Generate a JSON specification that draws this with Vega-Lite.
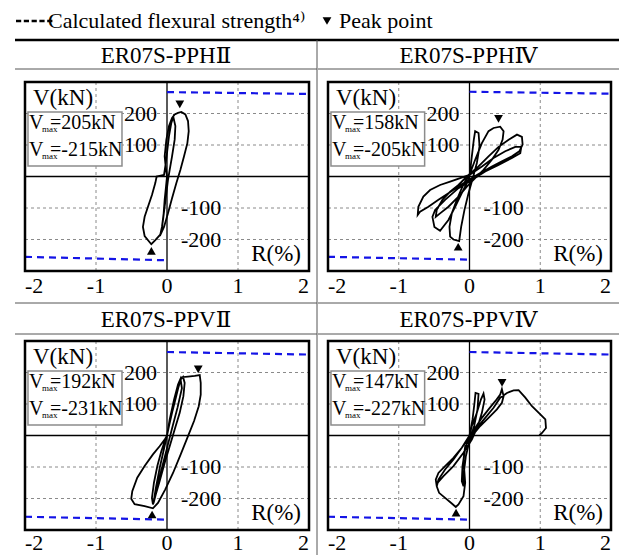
{
  "$schema": "https://vega.github.io/schema/vega-lite/v6.json",
  "padding": {"left": 13, "top": 0, "right": 3, "bottom": 0},
  "bounds": "flush",
  "spacing": 0,
  "columns": 3,
  "datasets": {
    "cal": [
      {"p": "HII", "s": "pos", "R": 0, "V": 268}, {"p": "HII", "s": "pos", "R": 2, "V": 262},
      {"p": "HII", "s": "neg", "R": -2, "V": -255}, {"p": "HII", "s": "neg", "R": 0, "V": -266},
      {"p": "HIV", "s": "pos", "R": 0, "V": 269}, {"p": "HIV", "s": "pos", "R": 2, "V": 263},
      {"p": "HIV", "s": "neg", "R": -2, "V": -255}, {"p": "HIV", "s": "neg", "R": 0, "V": -264},
      {"p": "VII", "s": "pos", "R": 0, "V": 265}, {"p": "VII", "s": "pos", "R": 2, "V": 257},
      {"p": "VII", "s": "neg", "R": -2, "V": -258}, {"p": "VII", "s": "neg", "R": 0, "V": -267},
      {"p": "VIV", "s": "pos", "R": 0, "V": 265}, {"p": "VIV", "s": "pos", "R": 2, "V": 257},
      {"p": "VIV", "s": "neg", "R": -2, "V": -258}, {"p": "VIV", "s": "neg", "R": 0, "V": -267}
    ],
    "pk": [
      {"p": "HII", "d": "down", "kind": "Peak point", "R": 0.18, "V": 229},
      {"p": "HII", "d": "up", "kind": "Peak point", "R": -0.22, "V": -236},
      {"p": "HIV", "d": "down", "kind": "Peak point", "R": 0.41, "V": 183},
      {"p": "HIV", "d": "up", "kind": "Peak point", "R": -0.16, "V": -223},
      {"p": "VII", "d": "down", "kind": "Peak point", "R": 0.44, "V": 210},
      {"p": "VII", "d": "up", "kind": "Peak point", "R": -0.21, "V": -251},
      {"p": "VIV", "d": "down", "kind": "Peak point", "R": 0.46, "V": 167},
      {"p": "VIV", "d": "up", "kind": "Peak point", "R": -0.19, "V": -245}
    ],
    "vm": [
      {"p": "HII", "t": ["=205kN", "=-215kN"]},
      {"p": "HIV", "t": ["=158kN", "=-205kN"]},
      {"p": "VII", "t": ["=192kN", "=-231kN"]},
      {"p": "VIV", "t": ["=147kN", "=-227kN"]}
    ],
    "gx": [{"R": -1}, {"R": 1}],
    "xt": [{"R": -2, "t": "-2"}, {"R": -1, "t": "-1"}, {"R": 0, "t": "0"}, {"R": 1, "t": "1"}, {"R": 2, "t": "2"}],
    "yt": [{"V": 200, "t": "200"}, {"V": 100, "t": "100"}, {"V": -100, "t": "-100"}, {"V": -200, "t": "-200"}],
    "hII": [
      {"R": 0, "V": 0}, {"R": -0.019, "V": 32}, {"R": -0.033, "V": 64}, {"R": -0.009, "V": 117}, {"R": 0.028, "V": 160}, {"R": 0.071, "V": 186}, {"R": 0.108, "V": 197}, {"R": 0.155, "V": 202}, {"R": 0.202, "V": 205}, {"R": 0.259, "V": 197}, {"R": 0.296, "V": 176}, {"R": 0.306, "V": 144}, {"R": 0.287, "V": 106}, {"R": 0.24, "V": 64}, {"R": 0.188, "V": 21}, {"R": 0.132, "V": -21}, {"R": 0.071, "V": -69}, {"R": 0.014, "V": -117}, {"R": -0.042, "V": -160}, {"R": -0.089, "V": -183}, {"R": -0.165, "V": -202}, {"R": -0.221, "V": -215}, {"R": -0.315, "V": -189}, {"R": -0.339, "V": -160}, {"R": -0.315, "V": -128}, {"R": -0.268, "V": -96}, {"R": -0.212, "V": -59}, {"R": -0.165, "V": -21}, {"R": -0.146, "V": 0}, {"R": -0.089, "V": 3}, {"R": -0.042, "V": 5}, {"R": -0.024, "V": 32}, {"R": 0, "V": 74}, {"R": 0.028, "V": 128}, {"R": 0.061, "V": 170}, {"R": 0.089, "V": 189}, {"R": 0.118, "V": 160}, {"R": 0.108, "V": 117}, {"R": 0.071, "V": 64}, {"R": 0.038, "V": 21}, {"R": 0.014, "V": -11}, {"R": -0.009, "V": -53}, {"R": -0.033, "V": -96}, {"R": -0.056, "V": -138}, {"R": -0.08, "V": -176}, {"R": -0.099, "V": -189}, {"R": -0.071, "V": -160}, {"R": -0.047, "V": -117}, {"R": -0.033, "V": -74}, {"R": -0.014, "V": -32}, {"R": 0, "V": 0}
    ],
    "hIV": [
      {"R": 0, "V": 0}, {"R": 0.033, "V": 64}, {"R": 0.061, "V": 117}, {"R": 0.08, "V": 144}, {"R": 0.128, "V": 138}, {"R": 0.142, "V": 96}, {"R": 0.104, "V": 43}, {"R": 0.047, "V": -5}, {"R": -0.014, "V": -53}, {"R": -0.071, "V": -106}, {"R": -0.118, "V": -160}, {"R": -0.146, "V": -205}, {"R": -0.227, "V": -200}, {"R": -0.274, "V": -191}, {"R": -0.283, "V": -160}, {"R": -0.25, "V": -117}, {"R": -0.179, "V": -74}, {"R": -0.109, "V": -37}, {"R": -0.052, "V": -11}, {"R": 0, "V": 5},
      {"R": 0.08, "V": 53}, {"R": 0.175, "V": 106}, {"R": 0.269, "V": 144}, {"R": 0.34, "V": 154}, {"R": 0.434, "V": 158}, {"R": 0.482, "V": 144}, {"R": 0.468, "V": 117}, {"R": 0.411, "V": 85}, {"R": 0.316, "V": 53}, {"R": 0.198, "V": 21}, {"R": 0.08, "V": -5}, {"R": -0.038, "V": -32}, {"R": -0.156, "V": -64}, {"R": -0.298, "V": -96}, {"R": -0.416, "V": -117}, {"R": -0.477, "V": -128}, {"R": -0.463, "V": -106}, {"R": -0.383, "V": -74}, {"R": -0.274, "V": -48}, {"R": -0.156, "V": -27}, {"R": -0.038, "V": 0},
      {"R": 0.128, "V": 32}, {"R": 0.269, "V": 64}, {"R": 0.411, "V": 94}, {"R": 0.553, "V": 117}, {"R": 0.671, "V": 133}, {"R": 0.741, "V": 126}, {"R": 0.751, "V": 101}, {"R": 0.704, "V": 80}, {"R": 0.6, "V": 64}, {"R": 0.458, "V": 48}, {"R": 0.316, "V": 32}, {"R": 0.151, "V": 11}, {"R": -0.014, "V": -11}, {"R": -0.156, "V": -32}, {"R": -0.298, "V": -53}, {"R": -0.439, "V": -74}, {"R": -0.581, "V": -96}, {"R": -0.699, "V": -112}, {"R": -0.732, "V": -122}, {"R": -0.723, "V": -96}, {"R": -0.652, "V": -64}, {"R": -0.557, "V": -43}, {"R": -0.416, "V": -27}, {"R": -0.274, "V": -16}, {"R": -0.132, "V": -5}, {"R": 0, "V": 5},
      {"R": 0.175, "V": 32}, {"R": 0.34, "V": 59}, {"R": 0.505, "V": 80}, {"R": 0.647, "V": 94}, {"R": 0.732, "V": 94}, {"R": 0.718, "V": 74}, {"R": 0.6, "V": 59}, {"R": 0.411, "V": 37}, {"R": 0.222, "V": 16}, {"R": 0.033, "V": -11}, {"R": -0.156, "V": -37}, {"R": -0.345, "V": -74}, {"R": -0.486, "V": -106}, {"R": -0.524, "V": -128}, {"R": -0.496, "V": -160}, {"R": -0.416, "V": -172}, {"R": -0.298, "V": -138}, {"R": -0.203, "V": -96}, {"R": -0.109, "V": -53}, {"R": -0.038, "V": -21}, {"R": 0, "V": 0}
    ],
    "vII": [
      {"R": 0, "V": 0}, {"R": 0.038, "V": 40}, {"R": 0.085, "V": 93}, {"R": 0.146, "V": 141}, {"R": 0.193, "V": 178}, {"R": 0.226, "V": 186}, {"R": 0.249, "V": 167}, {"R": 0.231, "V": 125}, {"R": 0.179, "V": 72}, {"R": 0.108, "V": 19}, {"R": 0.038, "V": -34}, {"R": -0.033, "V": -87}, {"R": -0.104, "V": -145}, {"R": -0.165, "V": -193}, {"R": -0.198, "V": -219}, {"R": -0.212, "V": -198}, {"R": -0.184, "V": -150}, {"R": -0.136, "V": -97}, {"R": -0.08, "V": -50}, {"R": -0.024, "V": -13}, {"R": 0, "V": 0},
      {"R": 0.028, "V": 30}, {"R": 0.071, "V": 72}, {"R": 0.118, "V": 114}, {"R": 0.165, "V": 157}, {"R": 0.202, "V": 185}, {"R": 0.296, "V": 187}, {"R": 0.391, "V": 189}, {"R": 0.461, "V": 192}, {"R": 0.475, "V": 167}, {"R": 0.475, "V": 130}, {"R": 0.447, "V": 93}, {"R": 0.381, "V": 46}, {"R": 0.296, "V": -2}, {"R": 0.193, "V": -60}, {"R": 0.085, "V": -119}, {"R": -0.024, "V": -171}, {"R": -0.127, "V": -214}, {"R": -0.198, "V": -231}, {"R": -0.315, "V": -224}, {"R": -0.456, "V": -218}, {"R": -0.504, "V": -201}, {"R": -0.489, "V": -177}, {"R": -0.419, "V": -134}, {"R": -0.315, "V": -97}, {"R": -0.198, "V": -60}, {"R": -0.104, "V": -34}, {"R": -0.033, "V": -13}, {"R": 0, "V": 0},
      {"R": 0.038, "V": 51}, {"R": 0.099, "V": 114}, {"R": 0.155, "V": 162}, {"R": 0.19, "V": 180}, {"R": 0.21, "V": 150}, {"R": 0.15, "V": 90}, {"R": 0.08, "V": 30}, {"R": 0, "V": -40}, {"R": -0.08, "V": -110}, {"R": -0.15, "V": -180}, {"R": -0.19, "V": -215}, {"R": -0.16, "V": -170}, {"R": -0.1, "V": -100}, {"R": -0.04, "V": -40}, {"R": 0, "V": 0}
    ],
    "vIV": [
      {"R": 0, "V": 0}, {"R": 0.043, "V": 51}, {"R": 0.071, "V": 104}, {"R": 0.085, "V": 135}, {"R": 0.128, "V": 132}, {"R": 0.113, "V": 83}, {"R": 0.066, "V": 30}, {"R": 0.005, "V": -13}, {"R": -0.052, "V": -66}, {"R": -0.08, "V": -119}, {"R": -0.085, "V": -161}, {"R": -0.109, "V": -145}, {"R": -0.099, "V": -97}, {"R": -0.071, "V": -55}, {"R": -0.033, "V": -18}, {"R": 0, "V": 0},
      {"R": 0.033, "V": 30}, {"R": 0.104, "V": 72}, {"R": 0.161, "V": 114}, {"R": 0.198, "V": 133}, {"R": 0.213, "V": 114}, {"R": 0.175, "V": 72}, {"R": 0.118, "V": 30}, {"R": 0.033, "V": -13}, {"R": -0.085, "V": -55}, {"R": -0.227, "V": -97}, {"R": -0.368, "V": -129}, {"R": -0.449, "V": -150}, {"R": -0.463, "V": -161}, {"R": -0.439, "V": -140}, {"R": -0.345, "V": -108}, {"R": -0.227, "V": -76}, {"R": -0.109, "V": -39}, {"R": 0, "V": 0},
      {"R": 0.08, "V": 24}, {"R": 0.175, "V": 56}, {"R": 0.269, "V": 83}, {"R": 0.364, "V": 109}, {"R": 0.434, "V": 130}, {"R": 0.458, "V": 147}, {"R": 0.482, "V": 125}, {"R": 0.458, "V": 104}, {"R": 0.387, "V": 83}, {"R": 0.269, "V": 56}, {"R": 0.151, "V": 30}, {"R": 0.033, "V": -2}, {"R": -0.061, "V": -34}, {"R": -0.085, "V": -76}, {"R": -0.071, "V": -119}, {"R": -0.061, "V": -150}, {"R": -0.085, "V": -193}, {"R": -0.156, "V": -219}, {"R": -0.194, "V": -227}, {"R": -0.25, "V": -216}, {"R": -0.345, "V": -198}, {"R": -0.43, "V": -182}, {"R": -0.463, "V": -161}, {"R": -0.477, "V": -140}, {"R": -0.439, "V": -119}, {"R": -0.345, "V": -97}, {"R": -0.227, "V": -71}, {"R": -0.109, "V": -39}, {"R": 0, "V": -4},
      {"R": 0.104, "V": 24}, {"R": 0.222, "V": 56}, {"R": 0.34, "V": 88}, {"R": 0.434, "V": 120}, {"R": 0.529, "V": 135}, {"R": 0.623, "V": 143}, {"R": 0.694, "V": 144}, {"R": 0.789, "V": 120}, {"R": 0.883, "V": 93}, {"R": 1.001, "V": 67}, {"R": 1.072, "V": 51}, {"R": 1.081, "V": 24}, {"R": 1.025, "V": 8}, {"R": 0.987, "V": 0}
    ]
  },
  "concat": [
    {"width": 302, "height": 40, "data": {"values": [{}]}, "mark": {"type": "rule", "color": "black", "strokeWidth": 2.5}, "encoding": {"y": {"datum": 0, "scale": {"domain": [0, 1]}, "axis": null}}},
    {"width": 1, "height": 40, "data": {"values": [{}]}, "mark": {"type": "rule", "color": "black", "strokeWidth": 2.5}, "encoding": {"y": {"datum": 0, "scale": {"domain": [0, 1]}, "axis": null}}},
    {"width": 301, "height": 40, "data": {"values": [{}]}, "mark": {"type": "rule", "color": "black", "strokeWidth": 2.5}, "encoding": {"y": {"datum": 0, "scale": {"domain": [0, 1]}, "axis": null}}},

    {
      "width": 302, "height": 29,
      "data": {"values": [{"t": "ER07S-PPHⅡ"}]},
      "layer": [
        {"mark": {"type": "text", "fontSize": 23, "baseline": "middle", "dy": 1}, "encoding": {"text": {"field": "t"}}},
        {"mark": {"type": "rule", "color": "#555555", "strokeWidth": 1}, "encoding": {"y": {"datum": 0, "scale": {"domain": [0, 1]}, "axis": null}}}
      ]
    },
    {"width": 1, "height": 29, "data": {"values": [{}]}, "mark": {"type": "rule", "color": "#555555", "strokeWidth": 1}, "encoding": {"x": {"datum": 0, "scale": {"domain": [0, 1]}, "axis": null}}},
    {
      "width": 301, "height": 29,
      "data": {"values": [{"t": "ER07S-PPHⅣ"}]},
      "layer": [
        {"mark": {"type": "text", "fontSize": 23, "baseline": "middle", "dy": 1}, "encoding": {"text": {"field": "t"}}},
        {"mark": {"type": "rule", "color": "#555555", "strokeWidth": 1}, "encoding": {"y": {"datum": 0, "scale": {"domain": [0, 1]}, "axis": null}}}
      ]
    },

    {
      "width": 302, "height": 234,
      "data": {"values": [{}]},
      "layer": [
        {"data": {"name": "gx"}, "mark": {"type": "rule", "color": "#8a8a8a", "strokeWidth": 1, "strokeDash": [3, 3]}, "encoding": {"x": {"field": "R", "type": "quantitative", "title": null, "scale": {"domain": [-2, 2], "range": [10, 294], "nice": false, "zero": false}}, "y": {"datum": -300, "scale": {"domain": [-300, 300], "range": [202, 13], "nice": false, "zero": false}}, "y2": {"datum": 300}}},
        {"data": {"name": "yt"}, "mark": {"type": "rule", "color": "#8a8a8a", "strokeWidth": 1, "strokeDash": [3, 3]}, "encoding": {"y": {"field": "V", "type": "quantitative", "title": null}, "x": {"datum": -2}, "x2": {"datum": 2}}},
        {"mark": {"type": "rule", "color": "black", "strokeWidth": 1.3}, "encoding": {"x": {"datum": -2}, "x2": {"datum": 2}, "y": {"datum": 0}}},
        {"mark": {"type": "rule", "color": "black", "strokeWidth": 1.3}, "encoding": {"x": {"datum": 0}, "y": {"datum": -300}, "y2": {"datum": 300}}},
        {"data": {"name": "cal"}, "transform": [{"filter": "datum.p == 'HII'"}], "mark": {"type": "line", "color": "#1414e6", "strokeDash": [7, 5], "strokeWidth": 2.2}, "encoding": {"x": {"field": "R", "type": "quantitative", "title": null}, "y": {"field": "V", "type": "quantitative", "title": null}, "detail": {"field": "s"}, "order": {"value": null}}},
        {"data": {"name": "hII"}, "mark": {"type": "line", "color": "black", "strokeWidth": 1.8}, "encoding": {"x": {"field": "R", "type": "quantitative", "title": null}, "y": {"field": "V", "type": "quantitative", "title": null}, "order": {"value": null}}},
        {"data": {"name": "pk"}, "transform": [{"filter": "datum.p == 'HII' && datum.d == 'down'"}], "mark": {"type": "point", "filled": true, "size": 1600, "color": "black", "opacity": 1}, "encoding": {"x": {"field": "R", "type": "quantitative", "title": null}, "y": {"field": "V", "type": "quantitative", "title": null}, "shape": {"field": "kind", "type": "nominal", "title": null, "scale": {"domain": ["Calculated flexural strength⁴⁾", "Peak point"], "range": ["M-1,-0.065H-0.74V0.065H-1Z M-0.61,-0.065H-0.35V0.065H-0.61Z M-0.22,-0.065H0.04V0.065H-0.22Z M0.17,-0.065H0.43V0.065H0.17Z M0.56,-0.065H0.82V0.065H0.56Z", "M-0.22,-0.19L0.22,-0.19L0,0.19Z"]}}}},
        {"data": {"name": "pk"}, "transform": [{"filter": "datum.p == 'HII' && datum.d == 'up'"}], "mark": {"type": "point", "filled": true, "size": 1600, "color": "black", "opacity": 1, "shape": "M-0.22,0.19L0.22,0.19L0,-0.19Z"}, "encoding": {"x": {"field": "R", "type": "quantitative", "title": null}, "y": {"field": "V", "type": "quantitative", "title": null}}},
        {"data": {"name": "yt"}, "transform": [{"filter": "datum.V > 0"}], "mark": {"type": "text", "fontSize": 22, "align": "right", "baseline": "middle", "dx": -10}, "encoding": {"x": {"datum": 0}, "y": {"field": "V", "type": "quantitative", "title": null}, "text": {"field": "t"}}},
        {"data": {"name": "yt"}, "transform": [{"filter": "datum.V < 0"}], "mark": {"type": "text", "fontSize": 22, "align": "left", "baseline": "middle", "dx": 14}, "encoding": {"x": {"datum": 0}, "y": {"field": "V", "type": "quantitative", "title": null}, "text": {"field": "t"}}},
        {"data": {"name": "xt"}, "mark": {"type": "text", "fontSize": 22, "baseline": "top", "dy": 5, "align": {"expr": "datum.R == -2 ? 'left' : datum.R == 2 ? 'right' : 'center'"}}, "encoding": {"x": {"field": "R", "type": "quantitative", "title": null}, "y": {"datum": -300}, "text": {"field": "t"}}},
        {"mark": {"type": "text", "text": "V(kN)", "fontSize": 23, "align": "left", "baseline": "top", "dx": 8, "dy": 5}, "encoding": {"x": {"datum": -2}, "y": {"datum": 300}}},
        {"mark": {"type": "text", "text": "R(%)", "fontSize": 23, "align": "right", "baseline": "bottom", "dx": -8, "dy": -5}, "encoding": {"x": {"datum": 2}, "y": {"datum": -300}}},
        {"mark": {"type": "rect", "fill": "white", "stroke": "#8c8c8c", "strokeWidth": 1.5}, "encoding": {"x": {"datum": -1.958}, "x2": {"datum": -0.634}, "y": {"datum": 205}, "y2": {"datum": 33}}},
        {"mark": {"type": "text", "text": ["V", "V"], "fontSize": 20, "lineHeight": 27, "align": "left", "baseline": "alphabetic", "dx": 4}, "encoding": {"x": {"datum": -2}, "y": {"datum": 152}}},
        {"mark": {"type": "text", "text": ["max", "max"], "fontSize": 9, "lineHeight": 27, "align": "left", "baseline": "alphabetic", "dx": 17, "dy": 3}, "encoding": {"x": {"datum": -2}, "y": {"datum": 152}}},
        {"data": {"name": "vm"}, "transform": [{"filter": "datum.p == 'HII'"}], "mark": {"type": "text", "fontSize": 20, "lineHeight": 27, "align": "left", "baseline": "alphabetic", "dx": 25}, "encoding": {"x": {"datum": -2}, "y": {"datum": 152}, "text": {"field": "t"}}},
        {"mark": {"type": "rect", "fill": "white", "fillOpacity": 0, "stroke": "black", "strokeWidth": 2.5}, "encoding": {"x": {"datum": -2}, "x2": {"datum": 2}, "y": {"datum": -300}, "y2": {"datum": 300}}}
      ]
    },
    {"width": 1, "height": 234, "data": {"values": [{}]}, "mark": {"type": "rule", "color": "#555555", "strokeWidth": 1}, "encoding": {"x": {"datum": 0, "scale": {"domain": [0, 1]}, "axis": null}}},
    {
      "width": 301, "height": 234,
      "data": {"values": [{}]},
      "layer": [
        {"data": {"name": "gx"}, "mark": {"type": "rule", "color": "#8a8a8a", "strokeWidth": 1, "strokeDash": [3, 3]}, "encoding": {"x": {"field": "R", "type": "quantitative", "title": null, "scale": {"domain": [-2, 2], "range": [10, 293], "nice": false, "zero": false}}, "y": {"datum": -300, "scale": {"domain": [-300, 300], "range": [202, 13], "nice": false, "zero": false}}, "y2": {"datum": 300}}},
        {"data": {"name": "yt"}, "mark": {"type": "rule", "color": "#8a8a8a", "strokeWidth": 1, "strokeDash": [3, 3]}, "encoding": {"y": {"field": "V", "type": "quantitative", "title": null}, "x": {"datum": -2}, "x2": {"datum": 2}}},
        {"mark": {"type": "rule", "color": "black", "strokeWidth": 1.3}, "encoding": {"x": {"datum": -2}, "x2": {"datum": 2}, "y": {"datum": 0}}},
        {"mark": {"type": "rule", "color": "black", "strokeWidth": 1.3}, "encoding": {"x": {"datum": 0}, "y": {"datum": -300}, "y2": {"datum": 300}}},
        {"data": {"name": "cal"}, "transform": [{"filter": "datum.p == 'HIV'"}], "mark": {"type": "line", "color": "#1414e6", "strokeDash": [7, 5], "strokeWidth": 2.2}, "encoding": {"x": {"field": "R", "type": "quantitative", "title": null}, "y": {"field": "V", "type": "quantitative", "title": null}, "detail": {"field": "s"}, "order": {"value": null}}},
        {"data": {"name": "hIV"}, "mark": {"type": "line", "color": "black", "strokeWidth": 1.8}, "encoding": {"x": {"field": "R", "type": "quantitative", "title": null}, "y": {"field": "V", "type": "quantitative", "title": null}, "order": {"value": null}}},
        {"data": {"name": "pk"}, "transform": [{"filter": "datum.p == 'HIV' && datum.d == 'down'"}], "mark": {"type": "point", "filled": true, "size": 1600, "color": "black", "opacity": 1}, "encoding": {"x": {"field": "R", "type": "quantitative", "title": null}, "y": {"field": "V", "type": "quantitative", "title": null}, "shape": {"field": "kind", "type": "nominal", "title": null, "scale": {"domain": ["Calculated flexural strength⁴⁾", "Peak point"], "range": ["M-1,-0.065H-0.74V0.065H-1Z M-0.61,-0.065H-0.35V0.065H-0.61Z M-0.22,-0.065H0.04V0.065H-0.22Z M0.17,-0.065H0.43V0.065H0.17Z M0.56,-0.065H0.82V0.065H0.56Z", "M-0.22,-0.19L0.22,-0.19L0,0.19Z"]}}}},
        {"data": {"name": "pk"}, "transform": [{"filter": "datum.p == 'HIV' && datum.d == 'up'"}], "mark": {"type": "point", "filled": true, "size": 1600, "color": "black", "opacity": 1, "shape": "M-0.22,0.19L0.22,0.19L0,-0.19Z"}, "encoding": {"x": {"field": "R", "type": "quantitative", "title": null}, "y": {"field": "V", "type": "quantitative", "title": null}}},
        {"data": {"name": "yt"}, "transform": [{"filter": "datum.V > 0"}], "mark": {"type": "text", "fontSize": 22, "align": "right", "baseline": "middle", "dx": -10}, "encoding": {"x": {"datum": 0}, "y": {"field": "V", "type": "quantitative", "title": null}, "text": {"field": "t"}}},
        {"data": {"name": "yt"}, "transform": [{"filter": "datum.V < 0"}], "mark": {"type": "text", "fontSize": 22, "align": "left", "baseline": "middle", "dx": 14}, "encoding": {"x": {"datum": 0}, "y": {"field": "V", "type": "quantitative", "title": null}, "text": {"field": "t"}}},
        {"data": {"name": "xt"}, "mark": {"type": "text", "fontSize": 22, "baseline": "top", "dy": 5, "align": {"expr": "datum.R == -2 ? 'left' : datum.R == 2 ? 'right' : 'center'"}}, "encoding": {"x": {"field": "R", "type": "quantitative", "title": null}, "y": {"datum": -300}, "text": {"field": "t"}}},
        {"mark": {"type": "text", "text": "V(kN)", "fontSize": 23, "align": "left", "baseline": "top", "dx": 8, "dy": 5}, "encoding": {"x": {"datum": -2}, "y": {"datum": 300}}},
        {"mark": {"type": "text", "text": "R(%)", "fontSize": 23, "align": "right", "baseline": "bottom", "dx": -8, "dy": -5}, "encoding": {"x": {"datum": 2}, "y": {"datum": -300}}},
        {"mark": {"type": "rect", "fill": "white", "stroke": "#8c8c8c", "strokeWidth": 1.5}, "encoding": {"x": {"datum": -1.958}, "x2": {"datum": -0.634}, "y": {"datum": 205}, "y2": {"datum": 33}}},
        {"mark": {"type": "text", "text": ["V", "V"], "fontSize": 20, "lineHeight": 27, "align": "left", "baseline": "alphabetic", "dx": 4}, "encoding": {"x": {"datum": -2}, "y": {"datum": 152}}},
        {"mark": {"type": "text", "text": ["max", "max"], "fontSize": 9, "lineHeight": 27, "align": "left", "baseline": "alphabetic", "dx": 17, "dy": 3}, "encoding": {"x": {"datum": -2}, "y": {"datum": 152}}},
        {"data": {"name": "vm"}, "transform": [{"filter": "datum.p == 'HIV'"}], "mark": {"type": "text", "fontSize": 20, "lineHeight": 27, "align": "left", "baseline": "alphabetic", "dx": 25}, "encoding": {"x": {"datum": -2}, "y": {"datum": 152}, "text": {"field": "t"}}},
        {"mark": {"type": "rect", "fill": "white", "fillOpacity": 0, "stroke": "black", "strokeWidth": 2.5}, "encoding": {"x": {"datum": -2}, "x2": {"datum": 2}, "y": {"datum": -300}, "y2": {"datum": 300}}}
      ]
    },

    {
      "width": 302, "height": 31,
      "data": {"values": [{"t": "ER07S-PPVⅡ"}]},
      "layer": [
        {"mark": {"type": "text", "fontSize": 23, "baseline": "middle", "dy": 1}, "encoding": {"text": {"field": "t"}}},
        {"mark": {"type": "rule", "color": "#555555", "strokeWidth": 1}, "encoding": {"y": {"datum": 0, "scale": {"domain": [0, 1]}, "axis": null}}},
        {"mark": {"type": "rule", "color": "#555555", "strokeWidth": 1}, "encoding": {"y": {"datum": 1, "scale": {"domain": [0, 1]}, "axis": null}}}
      ]
    },
    {"width": 1, "height": 31, "data": {"values": [{}]}, "mark": {"type": "rule", "color": "#555555", "strokeWidth": 1}, "encoding": {"x": {"datum": 0, "scale": {"domain": [0, 1]}, "axis": null}}},
    {
      "width": 301, "height": 31,
      "data": {"values": [{"t": "ER07S-PPVⅣ"}]},
      "layer": [
        {"mark": {"type": "text", "fontSize": 23, "baseline": "middle", "dy": 1}, "encoding": {"text": {"field": "t"}}},
        {"mark": {"type": "rule", "color": "#555555", "strokeWidth": 1}, "encoding": {"y": {"datum": 0, "scale": {"domain": [0, 1]}, "axis": null}}},
        {"mark": {"type": "rule", "color": "#555555", "strokeWidth": 1}, "encoding": {"y": {"datum": 1, "scale": {"domain": [0, 1]}, "axis": null}}}
      ]
    },

    {
      "width": 302, "height": 221,
      "data": {"values": [{}]},
      "layer": [
        {"data": {"name": "gx"}, "mark": {"type": "rule", "color": "#8a8a8a", "strokeWidth": 1, "strokeDash": [3, 3]}, "encoding": {"x": {"field": "R", "type": "quantitative", "title": null, "scale": {"domain": [-2, 2], "range": [10, 294], "nice": false, "zero": false}}, "y": {"datum": -300, "scale": {"domain": [-300, 300], "range": [196, 7], "nice": false, "zero": false}}, "y2": {"datum": 300}}},
        {"data": {"name": "yt"}, "mark": {"type": "rule", "color": "#8a8a8a", "strokeWidth": 1, "strokeDash": [3, 3]}, "encoding": {"y": {"field": "V", "type": "quantitative", "title": null}, "x": {"datum": -2}, "x2": {"datum": 2}}},
        {"mark": {"type": "rule", "color": "black", "strokeWidth": 1.3}, "encoding": {"x": {"datum": -2}, "x2": {"datum": 2}, "y": {"datum": 0}}},
        {"mark": {"type": "rule", "color": "black", "strokeWidth": 1.3}, "encoding": {"x": {"datum": 0}, "y": {"datum": -300}, "y2": {"datum": 300}}},
        {"data": {"name": "cal"}, "transform": [{"filter": "datum.p == 'VII'"}], "mark": {"type": "line", "color": "#1414e6", "strokeDash": [7, 5], "strokeWidth": 2.2}, "encoding": {"x": {"field": "R", "type": "quantitative", "title": null}, "y": {"field": "V", "type": "quantitative", "title": null}, "detail": {"field": "s"}, "order": {"value": null}}},
        {"data": {"name": "vII"}, "mark": {"type": "line", "color": "black", "strokeWidth": 1.8}, "encoding": {"x": {"field": "R", "type": "quantitative", "title": null}, "y": {"field": "V", "type": "quantitative", "title": null}, "order": {"value": null}}},
        {"data": {"name": "pk"}, "transform": [{"filter": "datum.p == 'VII' && datum.d == 'down'"}], "mark": {"type": "point", "filled": true, "size": 1600, "color": "black", "opacity": 1}, "encoding": {"x": {"field": "R", "type": "quantitative", "title": null}, "y": {"field": "V", "type": "quantitative", "title": null}, "shape": {"field": "kind", "type": "nominal", "title": null, "scale": {"domain": ["Calculated flexural strength⁴⁾", "Peak point"], "range": ["M-1,-0.065H-0.74V0.065H-1Z M-0.61,-0.065H-0.35V0.065H-0.61Z M-0.22,-0.065H0.04V0.065H-0.22Z M0.17,-0.065H0.43V0.065H0.17Z M0.56,-0.065H0.82V0.065H0.56Z", "M-0.22,-0.19L0.22,-0.19L0,0.19Z"]}}}},
        {"data": {"name": "pk"}, "transform": [{"filter": "datum.p == 'VII' && datum.d == 'up'"}], "mark": {"type": "point", "filled": true, "size": 1600, "color": "black", "opacity": 1, "shape": "M-0.22,0.19L0.22,0.19L0,-0.19Z"}, "encoding": {"x": {"field": "R", "type": "quantitative", "title": null}, "y": {"field": "V", "type": "quantitative", "title": null}}},
        {"data": {"name": "yt"}, "transform": [{"filter": "datum.V > 0"}], "mark": {"type": "text", "fontSize": 22, "align": "right", "baseline": "middle", "dx": -10}, "encoding": {"x": {"datum": 0}, "y": {"field": "V", "type": "quantitative", "title": null}, "text": {"field": "t"}}},
        {"data": {"name": "yt"}, "transform": [{"filter": "datum.V < 0"}], "mark": {"type": "text", "fontSize": 22, "align": "left", "baseline": "middle", "dx": 14}, "encoding": {"x": {"datum": 0}, "y": {"field": "V", "type": "quantitative", "title": null}, "text": {"field": "t"}}},
        {"data": {"name": "xt"}, "mark": {"type": "text", "fontSize": 22, "baseline": "top", "dy": 3, "align": {"expr": "datum.R == -2 ? 'left' : datum.R == 2 ? 'right' : 'center'"}}, "encoding": {"x": {"field": "R", "type": "quantitative", "title": null}, "y": {"datum": -300}, "text": {"field": "t"}}},
        {"mark": {"type": "text", "text": "V(kN)", "fontSize": 23, "align": "left", "baseline": "top", "dx": 8, "dy": 5}, "encoding": {"x": {"datum": -2}, "y": {"datum": 300}}},
        {"mark": {"type": "text", "text": "R(%)", "fontSize": 23, "align": "right", "baseline": "bottom", "dx": -8, "dy": -5}, "encoding": {"x": {"datum": 2}, "y": {"datum": -300}}},
        {"mark": {"type": "rect", "fill": "white", "stroke": "#8c8c8c", "strokeWidth": 1.5}, "encoding": {"x": {"datum": -1.958}, "x2": {"datum": -0.634}, "y": {"datum": 205}, "y2": {"datum": 33}}},
        {"mark": {"type": "text", "text": ["V", "V"], "fontSize": 20, "lineHeight": 27, "align": "left", "baseline": "alphabetic", "dx": 4}, "encoding": {"x": {"datum": -2}, "y": {"datum": 152}}},
        {"mark": {"type": "text", "text": ["max", "max"], "fontSize": 9, "lineHeight": 27, "align": "left", "baseline": "alphabetic", "dx": 17, "dy": 3}, "encoding": {"x": {"datum": -2}, "y": {"datum": 152}}},
        {"data": {"name": "vm"}, "transform": [{"filter": "datum.p == 'VII'"}], "mark": {"type": "text", "fontSize": 20, "lineHeight": 27, "align": "left", "baseline": "alphabetic", "dx": 25}, "encoding": {"x": {"datum": -2}, "y": {"datum": 152}, "text": {"field": "t"}}},
        {"mark": {"type": "rect", "fill": "white", "fillOpacity": 0, "stroke": "black", "strokeWidth": 2.5}, "encoding": {"x": {"datum": -2}, "x2": {"datum": 2}, "y": {"datum": -300}, "y2": {"datum": 300}}}
      ]
    },
    {"width": 1, "height": 221, "data": {"values": [{}]}, "mark": {"type": "rule", "color": "#555555", "strokeWidth": 1}, "encoding": {"x": {"datum": 0, "scale": {"domain": [0, 1]}, "axis": null}}},
    {
      "width": 301, "height": 221,
      "data": {"values": [{}]},
      "layer": [
        {"data": {"name": "gx"}, "mark": {"type": "rule", "color": "#8a8a8a", "strokeWidth": 1, "strokeDash": [3, 3]}, "encoding": {"x": {"field": "R", "type": "quantitative", "title": null, "scale": {"domain": [-2, 2], "range": [10, 293], "nice": false, "zero": false}}, "y": {"datum": -300, "scale": {"domain": [-300, 300], "range": [196, 7], "nice": false, "zero": false}}, "y2": {"datum": 300}}},
        {"data": {"name": "yt"}, "mark": {"type": "rule", "color": "#8a8a8a", "strokeWidth": 1, "strokeDash": [3, 3]}, "encoding": {"y": {"field": "V", "type": "quantitative", "title": null}, "x": {"datum": -2}, "x2": {"datum": 2}}},
        {"mark": {"type": "rule", "color": "black", "strokeWidth": 1.3}, "encoding": {"x": {"datum": -2}, "x2": {"datum": 2}, "y": {"datum": 0}}},
        {"mark": {"type": "rule", "color": "black", "strokeWidth": 1.3}, "encoding": {"x": {"datum": 0}, "y": {"datum": -300}, "y2": {"datum": 300}}},
        {"data": {"name": "cal"}, "transform": [{"filter": "datum.p == 'VIV'"}], "mark": {"type": "line", "color": "#1414e6", "strokeDash": [7, 5], "strokeWidth": 2.2}, "encoding": {"x": {"field": "R", "type": "quantitative", "title": null}, "y": {"field": "V", "type": "quantitative", "title": null}, "detail": {"field": "s"}, "order": {"value": null}}},
        {"data": {"name": "vIV"}, "mark": {"type": "line", "color": "black", "strokeWidth": 1.8}, "encoding": {"x": {"field": "R", "type": "quantitative", "title": null}, "y": {"field": "V", "type": "quantitative", "title": null}, "order": {"value": null}}},
        {"data": {"name": "pk"}, "transform": [{"filter": "datum.p == 'VIV' && datum.d == 'down'"}], "mark": {"type": "point", "filled": true, "size": 1600, "color": "black", "opacity": 1}, "encoding": {"x": {"field": "R", "type": "quantitative", "title": null}, "y": {"field": "V", "type": "quantitative", "title": null}, "shape": {"field": "kind", "type": "nominal", "title": null, "scale": {"domain": ["Calculated flexural strength⁴⁾", "Peak point"], "range": ["M-1,-0.065H-0.74V0.065H-1Z M-0.61,-0.065H-0.35V0.065H-0.61Z M-0.22,-0.065H0.04V0.065H-0.22Z M0.17,-0.065H0.43V0.065H0.17Z M0.56,-0.065H0.82V0.065H0.56Z", "M-0.22,-0.19L0.22,-0.19L0,0.19Z"]}}}},
        {"data": {"name": "pk"}, "transform": [{"filter": "datum.p == 'VIV' && datum.d == 'up'"}], "mark": {"type": "point", "filled": true, "size": 1600, "color": "black", "opacity": 1, "shape": "M-0.22,0.19L0.22,0.19L0,-0.19Z"}, "encoding": {"x": {"field": "R", "type": "quantitative", "title": null}, "y": {"field": "V", "type": "quantitative", "title": null}}},
        {"data": {"name": "yt"}, "transform": [{"filter": "datum.V > 0"}], "mark": {"type": "text", "fontSize": 22, "align": "right", "baseline": "middle", "dx": -10}, "encoding": {"x": {"datum": 0}, "y": {"field": "V", "type": "quantitative", "title": null}, "text": {"field": "t"}}},
        {"data": {"name": "yt"}, "transform": [{"filter": "datum.V < 0"}], "mark": {"type": "text", "fontSize": 22, "align": "left", "baseline": "middle", "dx": 14}, "encoding": {"x": {"datum": 0}, "y": {"field": "V", "type": "quantitative", "title": null}, "text": {"field": "t"}}},
        {"data": {"name": "xt"}, "mark": {"type": "text", "fontSize": 22, "baseline": "top", "dy": 3, "align": {"expr": "datum.R == -2 ? 'left' : datum.R == 2 ? 'right' : 'center'"}}, "encoding": {"x": {"field": "R", "type": "quantitative", "title": null}, "y": {"datum": -300}, "text": {"field": "t"}}},
        {"mark": {"type": "text", "text": "V(kN)", "fontSize": 23, "align": "left", "baseline": "top", "dx": 8, "dy": 5}, "encoding": {"x": {"datum": -2}, "y": {"datum": 300}}},
        {"mark": {"type": "text", "text": "R(%)", "fontSize": 23, "align": "right", "baseline": "bottom", "dx": -8, "dy": -5}, "encoding": {"x": {"datum": 2}, "y": {"datum": -300}}},
        {"mark": {"type": "rect", "fill": "white", "stroke": "#8c8c8c", "strokeWidth": 1.5}, "encoding": {"x": {"datum": -1.958}, "x2": {"datum": -0.634}, "y": {"datum": 205}, "y2": {"datum": 33}}},
        {"mark": {"type": "text", "text": ["V", "V"], "fontSize": 20, "lineHeight": 27, "align": "left", "baseline": "alphabetic", "dx": 4}, "encoding": {"x": {"datum": -2}, "y": {"datum": 152}}},
        {"mark": {"type": "text", "text": ["max", "max"], "fontSize": 9, "lineHeight": 27, "align": "left", "baseline": "alphabetic", "dx": 17, "dy": 3}, "encoding": {"x": {"datum": -2}, "y": {"datum": 152}}},
        {"data": {"name": "vm"}, "transform": [{"filter": "datum.p == 'VIV'"}], "mark": {"type": "text", "fontSize": 20, "lineHeight": 27, "align": "left", "baseline": "alphabetic", "dx": 25}, "encoding": {"x": {"datum": -2}, "y": {"datum": 152}, "text": {"field": "t"}}},
        {"mark": {"type": "rect", "fill": "white", "fillOpacity": 0, "stroke": "black", "strokeWidth": 2.5}, "encoding": {"x": {"datum": -2}, "x2": {"datum": 2}, "y": {"datum": -300}, "y2": {"datum": 300}}}
      ]
    }
  ],
  "config": {
    "view": {"stroke": null},
    "font": "Liberation Serif, Times New Roman, Times, Tinos, DejaVu Serif, serif",
    "text": {"color": "black"},
    "axis": {"disable": true, "domain": false, "ticks": false, "labels": false, "grid": false},
    "legend": {
      "orient": "none", "legendX": 0, "legendY": 0, "direction": "horizontal",
      "labelFont": "Liberation Serif, Times New Roman, Times, Tinos, DejaVu Serif, serif", "labelFontSize": 22, "labelColor": "black", "labelLimit": 0,
      "symbolSize": 1600, "symbolFillColor": "black", "symbolOpacity": 1,
      "symbolBaseFillColor": "black",
      "labelOffset": -9, "columnPadding": -13, "padding": 0
    }
  }
}
